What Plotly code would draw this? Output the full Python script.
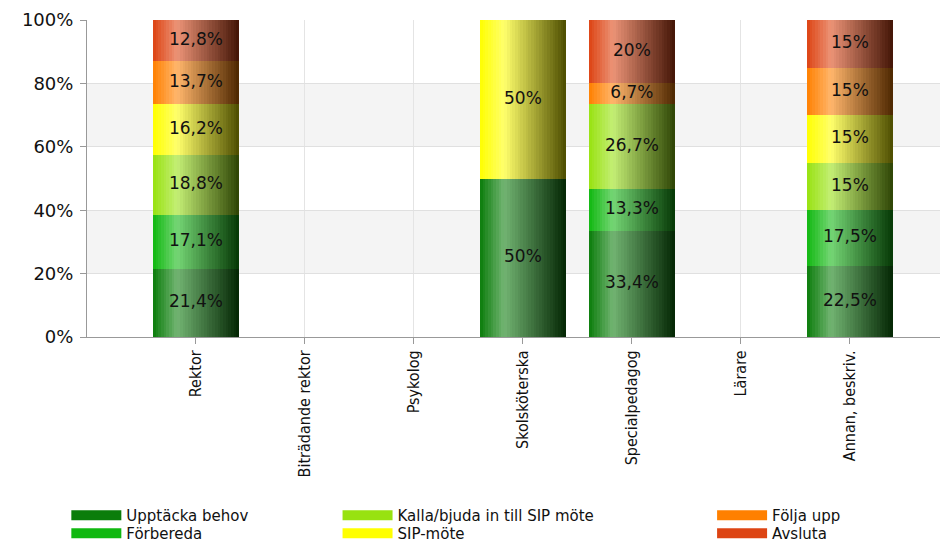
import plotly.graph_objects as go

# Data (percent of each category)
categories = ['Rektor', 'Biträdande rektor', 'Psykolog', 'Skolsköterska',
              'Specialpedagog', 'Lärare', 'Annan, beskriv.']

upptacka = [21.4, 0, 0, 50, 33.4, 0, 22.5]
forbereda = [17.1, 0, 0, 0, 13.3, 0, 17.5]
kalla = [18.8, 0, 0, 0, 26.7, 0, 15]
sip_mote = [16.2, 0, 0, 50, 0, 0, 15]
folja = [13.7, 0, 0, 0, 6.7, 0, 15]
avsluta = [12.8, 0, 0, 0, 20, 0, 15]

series = [('Upptäcka behov', upptacka, '#0b7d0b'),
          ('Förbereda', forbereda, '#10b810'),
          ('Kalla/bjuda in till SIP möte', kalla, '#98e210'),
          ('SIP-möte', sip_mote, '#ffff00'),
          ('Följa upp', folja, '#ff8000'),
          ('Avsluta', avsluta, '#dd4413')]


def hex2rgb(h):
    h = h.lstrip('#')
    return [int(h[i:i + 2], 16) for i in (0, 2, 4)]


def mix(a, b, t):
    return [a[i] + (b[i] - a[i]) * t for i in range(3)]


def shade(base, t):
    # horizontal gradient: saturated edge -> highlight -> dark
    c = hex2rgb(base)
    light = mix(c, [255, 255, 255], 0.42)
    dark = [v * 0.3 for v in c]
    if t < 0.28:
        r = mix(c, light, t / 0.28)
    else:
        r = mix(light, dark, (t - 0.28) / 0.72)
    return 'rgb(%d,%d,%d)' % tuple(int(round(v)) for v in r)


fmt = lambda v: ('%g' % v).replace('.', ',') + '%'

fig = go.Figure()

bar_w = 0.79
nslice = 32
sw = bar_w / nslice
bases = [0] * len(categories)
txt_x, txt_y, txt = [], [], []
for name, vals, col in series:
    for i in range(nslice):
        fig.add_trace(go.Bar(x=categories, y=vals, base=list(bases),
                             offset=-bar_w / 2 + i * sw, width=sw * 1.05,
                             marker=dict(color=shade(col, (i + 0.5) / nslice),
                                         line=dict(width=0)),
                             showlegend=False, hoverinfo='skip'))
    for k, v in enumerate(vals):
        if v > 0:
            txt_x.append(categories[k])
            txt_y.append(bases[k] + v / 2)
            txt.append(fmt(v))
    bases = [bases[k] + vals[k] for k in range(len(vals))]

fig.add_trace(go.Scatter(x=txt_x, y=txt_y, text=txt, mode='text',
                         textfont=dict(family='DejaVu Sans', size=17, color='#111'),
                         showlegend=False, hoverinfo='skip'))

# one small legend per entry so the 3x2 grid can be packed tightly
leg_x = [-0.024, -0.024, 0.291, 0.291, 0.726, 0.726]
leg_y = [-0.511, -0.568, -0.511, -0.568, -0.511, -0.568]
leg = dict(orientation='v', yanchor='top', xanchor='left', itemwidth=50,
           font=dict(family='DejaVu Sans', size=15, color='#111'),
           bgcolor='rgba(0,0,0,0)', itemclick=False)
legends = {}
for j, (name, vals, col) in enumerate(series):
    key = 'legend' if j == 0 else 'legend%d' % (j + 1)
    legends[key] = dict(leg, x=leg_x[j], y=leg_y[j])
    fig.add_trace(go.Scatter(x=[None], y=[None], mode='lines', name=name,
                             line=dict(color=col, width=13), legend=key))

# page body has an 8px margin, so the figure is a bit smaller than the window
fig.update_layout(
    width=940, height=535,
    margin=dict(l=79, r=0, t=12, b=206, autoexpand=False),
    paper_bgcolor='white', plot_bgcolor='white',
    barmode='overlay', bargap=0,
    shapes=[dict(type='rect', xref='paper', yref='y', x0=0, x1=1, y0=y0, y1=y0 + 20,
                 fillcolor='#f4f4f4', line=dict(width=0), layer='below')
            for y0 in (20, 60)],
    **legends
)

fig.update_xaxes(type='category', range=[-1, 6.9], automargin=False,
                 tickangle=-90, ticks='outside', ticklen=6, tickcolor='#999',
                 showline=True, linecolor='#999', linewidth=1,
                 showgrid=True, gridcolor='#e4e4e4',
                 tickfont=dict(family='Liberation Sans Narrow, DejaVu Sans Condensed, Liberation Sans',
                               size=16, color='#111'))
fig.update_yaxes(range=[0, 100], tickvals=[0, 20, 40, 60, 80, 100],
                 ticktext=['0%', '20%', '40%', '60%', '80%', '100%'], automargin=False,
                 ticks='outside', ticklen=6, tickcolor='#999', ticklabelstandoff=3,
                 showline=True, linecolor='#999', linewidth=1,
                 showgrid=True, gridcolor='#e0e0e0', zeroline=False,
                 tickfont=dict(family='DejaVu Sans', size=18, color='#111'))

fig.write_html('out.html')
